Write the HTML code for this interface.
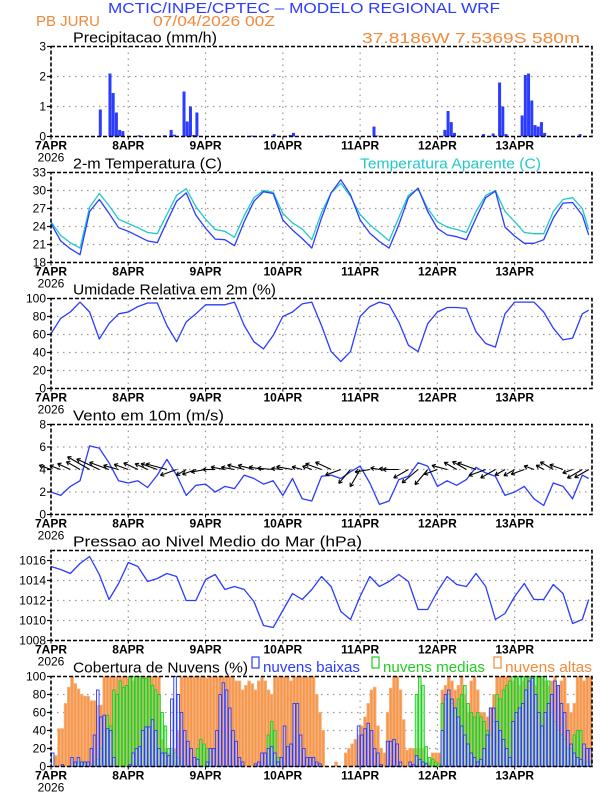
<!DOCTYPE html>
<html><head><meta charset="utf-8">
<style>
html,body{margin:0;padding:0;background:#fff;}
svg text{font-family:"Liberation Sans",sans-serif;}
</style></head>
<body>
<svg id="chart" width="612" height="792" viewBox="0 0 612 792" xmlns="http://www.w3.org/2000/svg">
<rect width="612" height="792" fill="#fff"/>
<text x="108" y="13" font-size="15" fill="#2b3cff" textLength="392" lengthAdjust="spacingAndGlyphs">MCTIC/INPE/CPTEC – MODELO REGIONAL WRF</text>
<text x="36" y="26" font-size="15" fill="#f08a3c" textLength="64" lengthAdjust="spacingAndGlyphs">PB JURU</text>
<text x="153" y="26" font-size="15" fill="#f08a3c" textLength="122" lengthAdjust="spacingAndGlyphs">07/04/2026 00Z</text>
<text x="362" y="43" font-size="15" fill="#f08a3c" textLength="218" lengthAdjust="spacingAndGlyphs">37.8186W 7.5369S 580m</text>
<g id="plots"></g>
</svg>
<script>
// ---------- data ----------
const dayLabels = ["7APR","8APR","9APR","10APR","11APR","12APR","13APR"];
const precipHours = [15,18,19,20,21,22,27,35,37,38,41,42,43,44,45,62,69,74,75,86,100,101,122,123,124,125,134,137,139,140,141,146,147,148,149,150,151,152,153,164];
const precipVals  = [0.9,2.1,1.45,0.8,0.22,0.18,0.04,0.04,0.22,0.06,1.5,0.5,1.0,0.05,0.8,0.03,0.08,0.05,0.12,0.03,0.33,0.03,0.22,0.85,0.48,0.12,0.08,0.1,1.8,1.0,0.08,0.7,2.05,2.1,1.2,0.38,0.33,0.48,0.12,0.08];
const tempVals = [24.5,21.6,20.3,19.3,26.5,28.5,26.2,23.8, 23.2,22.4,21.6,21.3,24.8,28.2,29.6,25.9, 23.7,21.9,21.8,20.8,24.8,28.2,29.8,29.5, 25.1,23.4,22.0,20.4,25.4,29.6,31.8,29.3, 25.1,22.9,21.5,20.4,24.3,28.8,30.4,26.5, 23.7,22.6,22.3,21.8,25.4,28.8,29.9,23.9, 22.4,21.2,21.2,21.8,25.4,27.9,28.0,25.9, 22.6];
const appTempVals = [24.8,22.5,21.3,20.4,27.2,29.5,27.5,25.2, 24.5,23.8,23.0,22.8,26.0,29.2,30.3,27.3, 25.2,23.5,23.2,22.2,25.8,28.8,30.0,29.7, 26.2,24.6,23.6,21.8,26.3,29.6,31.2,29.0, 26.0,24.3,23.0,21.6,25.5,29.2,30.3,27.0, 24.8,23.9,23.5,23.0,26.5,29.2,30.0,26.5, 24.8,23.0,22.8,22.8,26.5,28.5,28.8,27.0, 23.5];
const rhVals = [61,78,85,96,85,55,72,83, 85,91,95,95,70,52,74,83, 93,93,93,96,70,52,44,59, 80,85,94,96,70,41,30,41, 80,91,96,93,74,48,41,72, 85,90,90,89,63,50,46,83, 96,96,96,85,67,54,56,83, 87];
const windVals = [2.0,1.7,2.5,3.0,6.1,5.9,4.6,3.0, 2.8,3.0,2.4,3.5,4.9,3.5,1.7,2.6, 2.7,2.0,2.5,2.3,3.5,3.2,2.7,3.0, 1.7,3.2,1.4,1.2,3.4,3.5,3.2,3.8, 4.3,2.8,0.9,1.2,3.1,3.4,4.6,4.3, 2.5,3.0,2.6,3.1,4.2,3.7,3.4,1.7, 2.0,2.5,1.4,0.8,2.8,2.5,1.4,3.5, 3.2];
const windDirs = [160,160,155,150,150,155,160,165, 160,155,155,160,165,200,210,200, 190,180,170,170,165,165,170,175, 175,170,165,160,160,155,200,230, 240,190,170,175,180,210,220,230, 200,165,150,150,160,200,210,210, 210,200,160,150,150,160,200,210, 210];
const pressVals = [1015.4,1015.1,1014.7,1015.7,1016.4,1014.6,1012.1,1013.7, 1015.8,1015.4,1013.9,1014.2,1014.7,1014.4,1012.0,1012.0, 1014.1,1014.6,1013.1,1013.4,1013.1,1011.9,1009.5,1009.3, 1011.0,1012.7,1012.1,1013.1,1014.4,1013.4,1010.9,1010.1, 1012.4,1014.4,1013.4,1013.9,1014.6,1013.9,1011.1,1011.1, 1012.9,1014.4,1013.6,1013.4,1014.7,1013.4,1010.1,1010.7, 1012.4,1013.7,1012.1,1012.1,1013.6,1012.7,1009.7,1010.1, 1012.1];
const cloudHigh = [0,12,42,42,70,88,100,92,86,80,78,78,73,73,68,68,
 100,100,100,100,100,100,100,100,100,95,98,100,100,100,100,100,100,100,
 30,20,15,15,20,40,
 100,100,100,100,100,100,100,100,98,100,100,100,100,100,100,100,100,
 95,95,85,90,95,92,85,95,100,95,85,80,
 100,100,100,100,100,95,100,100,100,100,100,100,100,
 80,60,40, 0,0,0,5,0,0,
 15,20,25,30,35,45,55,70,85,88,
 45,20,15,60,87,100,100,85,52,18,
 20,20,20,20,20,5,5,15,15,15,
 85,90,100,95,85,90,100,80,60,95,100,85,60,
 60,55,65,80, 100,100,100,100,100,95,100,
 90,95,100,100,95,90,100,100,95,90,
 95,100,90,95,100, 70,60,70, 100,100,95,100,100];
const cloudMid = [0,0,0,0,0,0,0,3,5,5,3,0,0,5,8,
 20,40,57,45,
 85,80,95,88,90,100,100,100,100,98,98,100,90,85,80,
 60,45,20,18,15,10,5, 0,0,0,0, 20,30,25,20,5,0,
 0,0,0,0,0,0,0,0,0,0,0,0,0,0,0,0,
 35,50,40,10,
 0,0,0,0,0,0,0,0,0,0,0,0,0,0,0,0,0,0,0,0,0,0,0,0,0,0,0,0,0,0,0,0,0,0,0,0,0,0,0,0,0,0,
 80,100,90,22,10,8,5,3,
 70,75,80,70,65,75,80,90,70,60,
 55,60,55,50,40,35,50,
 80,75,85,90,95,100,100,100,100,100,100,
 100,100,100,100,100,95,
 60,50,40,35,30,20, 20,35,40,40, 5,5,5];
const cloudLow = [15,0,0,2,0,0,10,5,10, 5,5,5,20,35,85, 55,57,42,40,10, 0,0,0,0,2, 15,20,22, 40,44,44,52,
 40,20,15,15,12, 75,100,80,60,40,28, 20,10,8,0, 0,5,20,20, 40,80,93,85, 65,40,28,
 10,5,0,0,0,3,5, 15,15,20,22, 15,5,10, 45,22,25,70, 70,35,20, 10,10,10,5,3,
 0,0,0,0,0,0,0,0,0,0,0, 45,35,42,48, 40,20,15, 2,0,28,28,30, 25,5,0,0,
 5,2,12,8,5,3,0,0,0,0, 40,80,85,75,65, 55,45,35,25,15, 10,5,8,20,35,
 65,65,50,40,30, 20,10,50,60,65, 70,85,95,98,80, 60,45,60,70,80, 95,90,70,60,40,
 25,15,10,8,25,20,20];

// ---------- layout ----------
const NS = "http://www.w3.org/2000/svg";
const root = document.getElementById("plots");
const X0 = 51, XR = 592, PH = 3.22, PANEL_H = 90;
const panelTops = [46.5,172.5,298.5,424.5,550.5,676.5];
const xAt = h => X0 + h * PH;
const seriesHours = i => (i < 56 ? i * 3 : 167);
function mk(tag, attrs, parent) {
  const e = document.createElementNS(NS, tag);
  for (const k in attrs) e.setAttribute(k, attrs[k]);
  (parent || root).appendChild(e);
  return e;
}
function yScale(top, min, max) { return v => top + PANEL_H - (v - min) / (max - min) * PANEL_H; }

function panel(idx, name, title, titleLen, min, max, ticks, gridVals) {
  const top = panelTops[idx], bot = top + PANEL_H;
  const g = mk("g", {});
  
  
  const ys = yScale(top, min, max);
  gridVals.forEach(v => {
    const l = mk("line", {x1:X0, x2:XR, y1:ys(v), y2:ys(v), stroke:"#999", "stroke-width":1.2, "stroke-dasharray":"1.5,4.5"}, g);
    
    
  });
  for (let d = 1; d < 7; d++) {
    const l = mk("line", {x1:xAt(d*24), x2:xAt(d*24), y1:top, y2:bot, stroke:"#999", "stroke-width":1.2, "stroke-dasharray":"1.5,4.5"}, g);
    
    
  }
  ticks.forEach(v => {
    mk("line", {x1:X0-4, x2:X0, y1:ys(v), y2:ys(v), stroke:"#000", "stroke-width":1.2}, g);
    const t = mk("text", {x:X0-5, y:ys(v)+4, "font-size":12, "text-anchor":"end", fill:"#000"}, g);
    
    
    t.textContent = v;
  });
  dayLabels.forEach((lab, d) => {
    const t = mk("text", {x:xAt(d*24), y:bot+13, "font-size":12, "text-anchor":"middle", fill:"#000", "font-weight":"bold"}, g);
    
    
    t.textContent = lab;
    mk("line", {x1:xAt(d*24), x2:xAt(d*24), y1:bot, y2:bot+3, stroke:"#000"}, g);
  });
  const yr = mk("text", {x:X0, y:bot+25, "font-size":12, "text-anchor":"middle", fill:"#000"}, g);
  
  
  yr.textContent = "2026";
  const tt = mk("text", {x:73, y:top-4, "font-size":15, fill:"#000", textLength:titleLen, lengthAdjust:"spacingAndGlyphs"}, g);
  
  
  tt.textContent = title;
  const content = mk("g", {}, g);
  const fr = mk("rect", {x:X0, y:top, width:XR-X0, height:PANEL_H, fill:"none", stroke:"#000", "stroke-width":1.6, "stroke-dasharray":"4,2"}, g);
  
  
  return {g: content, ys, top, bot};
}
function line(p, vals, color, name) {
  const pts = vals.map((v, i) => xAt(seriesHours(i)).toFixed(1) + "," + p.ys(v).toFixed(1)).join(" ");
  const l = mk("polyline", {points:pts, fill:"none", stroke:color, "stroke-width":1.3, "stroke-linejoin":"round"}, p.g);
  
  
}

// Panel 1: precipitation
const p1 = panel(0, "precipitation", "Precipitacao (mm/h)", 144, 0, 3, [0,1,2,3], [1,2]);
precipHours.forEach((h, i) => {
  const y = p1.ys(precipVals[i]);
  const r = mk("rect", {x:xAt(h)-0.5, y:y, width:3, height:p1.bot-y, fill:"#2b3cff"}, p1.g);
  
  
});

// Panel 2: temperature
const p2 = panel(1, "temperature", "2-m Temperatura (C)", 149, 18, 33, [18,21,24,27,30,33], [21,24,27,30]);
const at = mk("text", {x:360, y:p2.top-4, "font-size":15, fill:"#22c8c8", textLength:181, lengthAdjust:"spacingAndGlyphs"}, p2.g);


at.textContent = "Temperatura Aparente (C)";
line(p2, appTempVals, "#22c8c8", "apparent-temp-line");
line(p2, tempVals, "#2b3cff", "temperature-line");

// Panel 3: RH
const p3 = panel(2, "humidity", "Umidade Relativa em 2m (%)", 203, 0, 100, [0,20,40,60,80,100], [20,40,60,80]);
line(p3, rhVals, "#2b3cff", "humidity-line");

// Panel 4: wind
const p4 = panel(3, "wind", "Vento em 10m (m/s)", 151, 0, 8, [0,2,4,6,8], [2,4,6]);
line(p4, windVals, "#2b3cff", "wind-speed-line");
const baseY = p4.ys(4);
windDirs.forEach((d, i) => {
  const x = xAt(seriesHours(i)), len = 6 + 3.2 * windVals[i];
  const a = d * Math.PI / 180;
  const ex = x + len * Math.cos(a), ey = baseY - len * Math.sin(a);
  const ag = mk("g", {stroke:"#000", "stroke-width":1.1, fill:"none"}, p4.g);
  
  
  mk("line", {x1:x, y1:baseY, x2:ex, y2:ey}, ag);
  const hl = 4;
  [a + 2.6, a - 2.6].forEach(b => mk("line", {x1:ex, y1:ey, x2:ex + hl*Math.cos(b), y2:ey - hl*Math.sin(b)}, ag));
});

// Panel 5: pressure
const p5 = panel(4, "pressure", "Pressao ao Nivel Medio do Mar (hPa)", 289, 1008, 1017, [1008,1010,1012,1014,1016], [1010,1012,1014,1016]);
line(p5, pressVals, "#2b3cff", "pressure-line");

// Panel 6: clouds
const p6 = panel(5, "clouds", "Cobertura de Nuvens (%)", 175, 0, 100, [0,20,40,60,80,100], [20,40,60,80]);
function bars(vals, fill, stroke, name, fop) {
  vals.forEach((v, h) => {
    if (v <= 0) return;
    const y = p6.ys(v);
    const r = mk("rect", {x:xAt(h)+0.4, y:y, width:2.6, height:p6.bot-y, fill:fill, "fill-opacity":fop, stroke:stroke, "stroke-width":0.9}, p6.g);
    
    
  });
}
bars(cloudHigh, "#f5964a", "#f8b078", "high-cloud-bar", 1);
bars(cloudMid, "#7de87d", "#22cc22", "mid-cloud-bar", 0.6);
bars(cloudLow, "#dfe6ff", "#2b3cff", "low-cloud-bar", 0.35);
const lg = mk("g", {});


const legItems = [["nuvens baixas","#2b3cff",252,97],["nuvens medias","#22cc22",372,102],["nuvens altas","#f08a3c",494,87]];
legItems.forEach(it => {
  const b = mk("rect", {x:it[2], y:657, width:7, height:11, fill:"none", stroke:it[1], "stroke-width":1.2}, lg);
  
  
  const t = mk("text", {x:it[2]+11, y:672, "font-size":15, fill:it[1], textLength:it[3], lengthAdjust:"spacingAndGlyphs"}, lg);
  
  
  t.textContent = it[0];
});
</script>
</body></html>
